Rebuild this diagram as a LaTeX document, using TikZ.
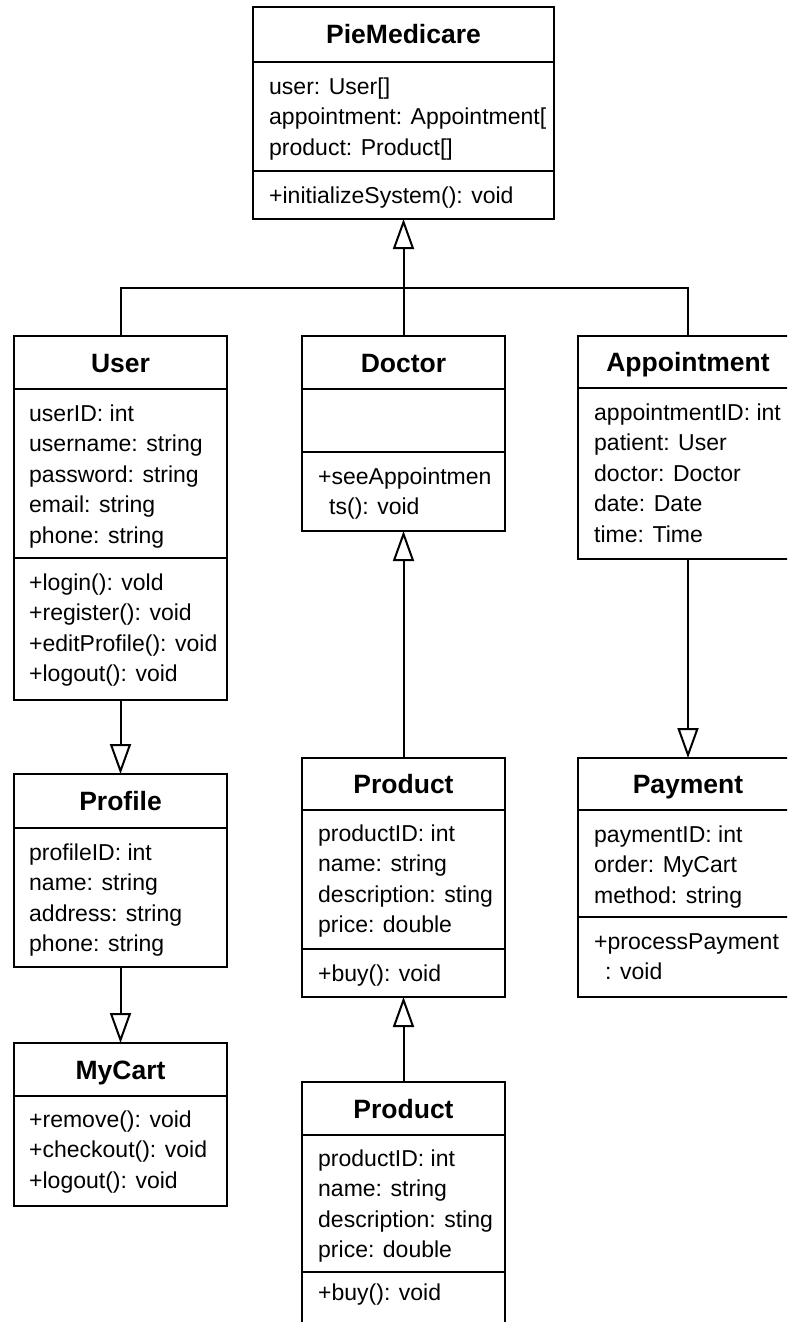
\documentclass[tikz,border=0pt]{standalone}
\usepackage{fontspec}
\setmainfont{Liberation Sans}
\usetikzlibrary{arrows.meta,calc}

\tikzset{
  x=1pt, y=-1pt,
  cls/.style={draw=black, line width=2pt, fill=white, inner sep=0pt, outer sep=0pt},
  ttl/.style={anchor=base, inner sep=0pt, font=\fontsize{26.5}{30}\selectfont\bfseries},
  mem/.style={anchor=base west, inner sep=0pt, font=\fontsize{23}{28}\selectfont},
  rule/.style={line width=2pt},
  conn/.style={line width=2pt},
  gen/.style={conn, -{Triangle[open, length=30pt, width=21pt]}},
}

% class box: name, left x, top y, width, height, title, title band height
\newcommand\umlclass[7]{%
  \node[cls, minimum width=#4, minimum height=#5, anchor=north west] (#1) at (#2,#3) {};
  \node[ttl] (#1-title) at ($(#1.north)+(0,{#7/2+9.5})$) {#6};
  \draw[rule] ($(#1.north west)+(0,#7)$) -- ($(#1.north east)+(0,#7)$);
}
% extra compartment line at an offset below the top edge
\newcommand\compline[2]{%
  \draw[rule] ($(#1.north west)+(0,#2)$) -- ($(#1.north east)+(0,#2)$);
}
% member lines: node prefix, x, first baseline, line step, list
\newcommand\members[5]{%
  \foreach \m [count=\k] in {#5}
    \node[mem] (#1\k) at (#2,{#3+(\k-1)*#4}) {\m};
}

\begin{document}
\begin{tikzpicture}
  \useasboundingbox (0,0) rectangle (787,1322);
  \fill[white] (0,0) rectangle (787,1322);
  \clip (0,0) rectangle (787,1322);

  % root class
  \umlclass{pie}{253}{7}{301}{212}{PieMedicare}{55}
  \compline{pie}{164}
  \members{pie-a}{269}{94}{30.5}{{user: User[]},{appointment: Appointment[},{product: Product[]}}
  \members{pie-m}{269}{203}{30.5}{{+initializeSystem(): void}}

  % first row
  \umlclass{user}{14}{336}{213}{364}{User}{53}
  \compline{user}{222}
  \members{user-a}{29}{421}{30.5}{{userID: int},{username: string},{password: string},{email: string},{phone: string}}
  \members{user-m}{29}{590}{30.5}{{+login(): vold},{+register(): void},{+editProfile(): void},{+logout(): void}}

  \umlclass{doctor}{302}{336}{203}{195}{Doctor}{53}
  \compline{doctor}{116}
  \node[mem] (doctor-m1) at (318,484) {+seeAppointmen};
  \node[mem] (doctor-m2) at (329,514) {ts(): void};

  \umlclass{appt}{578}{336}{220}{223}{Appointment}{52}
  \members{appt-a}{594}{420}{30.5}{{appointmentID: int},{patient: User},{doctor: Doctor},{date: Date},{time: Time}}

  % second row
  \umlclass{profile}{14}{774}{213}{193}{Profile}{54}
  \members{profile-a}{29}{860}{30.5}{{profileID: int},{name: string},{address: string},{phone: string}}

  \umlclass{prodA}{302}{758}{203}{239}{Product}{52}
  \compline{prodA}{191}
  \members{prodA-a}{318}{841}{30.5}{{productID: int},{name: string},{description: sting},{price: double}}
  \node[mem] (prodA-m1) at (318,981) {+buy(): void};

  \umlclass{pay}{578}{758}{220}{239}{Payment}{52}
  \compline{pay}{159}
  \members{pay-a}{594}{842}{30.5}{{paymentID: int},{order: MyCart},{method: string}}
  \node[mem] (pay-m1) at (594,949) {+processPayment};
  \node[mem] (pay-m2) at (605,979) {: void};

  % third row
  \umlclass{cart}{14}{1043}{213}{163}{MyCart}{53}
  \members{cart-m}{29}{1127}{30.5}{{+remove(): void},{+checkout(): void},{+logout(): void}}

  \umlclass{prodB}{302}{1082}{203}{400}{Product}{53}
  \compline{prodB}{190}
  \members{prodB-a}{318}{1166}{30.5}{{productID: int},{name: string},{description: sting},{price: double}}
  \node[mem] (prodB-m1) at (318,1300) {+buy(): void};

  % generalisation connectors
  \coordinate (busy) at (0,288);
  \draw[conn] (user.north) |- (doctor.north |- busy) -| (appt.north);
  \draw[gen] (doctor.north) -- (doctor.north |- pie.south);
  \draw[gen] (user.south) -- (profile.north);
  \draw[gen] (profile.south) -- (cart.north);
  \draw[gen] (prodA.north) -- (doctor.south);
  \draw[gen] (prodB.north) -- (prodA.south);
  \draw[gen] (appt.south) -- (pay.north);
\end{tikzpicture}
\end{document}
